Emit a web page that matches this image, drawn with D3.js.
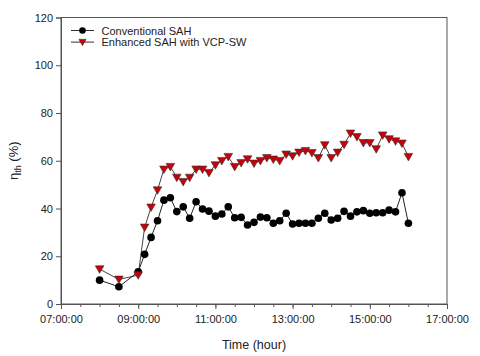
<!DOCTYPE html>
<html>
<head>
<meta charset="utf-8">
<script src="https://cdn.jsdelivr.net/npm/d3@7"></script>
<style>
  body { margin: 0; background: #fff; }
  svg text { font-family: "Liberation Sans", Arial, sans-serif; fill: #222; }
</style>
</head>
<body>
<div id="chart"></div>
<script>
// sample times (hh:mm)
var times = ["08:00", "08:30", "09:00", "09:10", "09:20", "09:30", "09:40", "09:50",
  "10:00", "10:10", "10:20", "10:30", "10:40", "10:50", "11:00", "11:10", "11:20", "11:30",
  "11:40", "11:50", "12:00", "12:10", "12:20", "12:30", "12:40", "12:50", "13:00", "13:10",
  "13:20", "13:30", "13:40", "13:50", "14:00", "14:10", "14:20", "14:30", "14:40", "14:50",
  "15:00", "15:10", "15:20", "15:30", "15:40", "15:50", "16:00"];

var conventional = [10.0, 7.2, 13.5, 20.8, 27.9, 34.9, 43.5, 44.5,
  38.7, 40.7, 35.9, 42.8, 39.8, 38.9, 36.8, 37.7, 40.7, 36.1,
  36.3, 33.1, 34.2, 36.4, 36.1, 33.8, 34.9, 38.0, 33.5, 33.8,
  33.8, 33.8, 35.9, 38.0, 35.2, 35.9, 38.8, 36.8, 38.6, 39.1,
  38.0, 38.2, 38.2, 39.3, 38.6, 46.6, 33.8];

var enhanced = [14.6, 10.3, 12.1, 32.1, 40.5, 47.7, 56.4, 57.5,
  53.0, 51.2, 53.0, 56.4, 56.4, 55.0, 58.2, 60.0, 61.7, 57.5,
  59.1, 60.7, 58.9, 60.0, 61.2, 60.6, 60.0, 62.7, 62.0, 63.5,
  64.2, 63.3, 61.2, 66.6, 61.2, 63.5, 66.8, 71.5, 70.0, 67.5,
  67.5, 64.9, 70.7, 69.1, 68.2, 67.3, 61.7];

var seriesNames = ["Conventional SAH", "Enhanced SAH with VCP-SW"];
var yTicks = [0, 20, 40, 60, 80, 100, 120];
var xTickHours = [7, 9, 11, 13, 15, 17];

var W = 480, H = 356,
    margin = { top: 17.5, right: 33, bottom: 52, left: 61 },
    width = W - margin.left - margin.right,
    height = H - margin.top - margin.bottom;

function parseTime(s) {
  var p = s.split(":");
  return new Date(Date.UTC(2000, 0, 1, +p[0], +p[1]));
}
function hourDate(h) { return new Date(Date.UTC(2000, 0, 1, h, 0)); }

var svg = d3.select("#chart").append("svg")
  .attr("width", W).attr("height", H);
var g = svg.append("g")
  .attr("transform", "translate(" + margin.left + "," + margin.top + ")");

var x = d3.scaleUtc().domain([hourDate(7), hourDate(17)]).range([0, width]);
var y = d3.scaleLinear().domain([0, 120]).range([height, 0]);

var frameColor = "#555";

// minor x ticks every 30 min
var minor = d3.utcMinute.every(30).range(hourDate(7), hourDate(17));
g.append("g")
  .attr("transform", "translate(0," + height + ")")
  .call(d3.axisBottom(x).tickValues(minor).tickSize(3).tickFormat(""))
  .call(function(a) { a.select(".domain").remove(); a.selectAll("line").attr("stroke", frameColor); });

var xAxis = g.append("g")
  .attr("transform", "translate(0," + height + ")")
  .call(d3.axisBottom(x).tickValues(xTickHours.map(hourDate)).tickSize(5).tickPadding(6)
    .tickFormat(d3.utcFormat("%H:%M:%S")));
xAxis.selectAll("text").style("font-size", "11px");

var yAxis = g.append("g")
  .call(d3.axisLeft(y).tickValues(yTicks).tickSize(5).tickPadding(3));
yAxis.selectAll("text").style("font-size", "11px");

svg.selectAll(".domain").attr("stroke", frameColor);
svg.selectAll(".tick line").attr("stroke", frameColor);

// frame
g.append("rect")
  .attr("width", width).attr("height", height)
  .attr("fill", "none").attr("stroke", frameColor).attr("stroke-width", 1);

// axis titles
svg.append("text")
  .attr("x", margin.left + width / 2).attr("y", 349)
  .attr("text-anchor", "middle").style("font-size", "12.5px")
  .text("Time (hour)");

var yt = svg.append("text")
  .attr("transform", "translate(18," + (margin.top + height / 2) + ") rotate(-90)")
  .attr("text-anchor", "middle").style("font-size", "13px");
yt.append("tspan").text("η");
yt.append("tspan").attr("dy", 3).style("font-size", "9px").text("th");
yt.append("tspan").attr("dy", -3).text(" (%)");

var line = d3.line()
  .x(function(d) { return x(d.t); })
  .y(function(d) { return y(d.v); });

function pack(vals) {
  return times.map(function(t, i) { return { t: parseTime(t), v: vals[i] }; });
}
var dConv = pack(conventional), dEnh = pack(enhanced);

var tri = "M-4.3,-3.3L4.3,-3.3L0,4.2Z";

g.append("path").datum(dEnh)
  .attr("fill", "none").attr("stroke", "#444").attr("stroke-width", 1)
  .attr("d", line);
g.append("path").datum(dConv)
  .attr("fill", "none").attr("stroke", "#222").attr("stroke-width", 1)
  .attr("d", line);

g.selectAll(".dot").data(dConv).enter().append("circle")
  .attr("cx", function(d) { return x(d.t); })
  .attr("cy", function(d) { return y(d.v); })
  .attr("r", 3.8).attr("fill", "#000");

g.selectAll(".tri").data(dEnh).enter().append("path")
  .attr("d", tri)
  .attr("transform", function(d) { return "translate(" + x(d.t) + "," + y(d.v) + ")"; })
  .attr("fill", "#c8000a").attr("stroke", "#333").attr("stroke-width", 0.6);

// legend
var legend = g.append("g").attr("transform", "translate(10,13)");
seriesNames.forEach(function(name, i) {
  var row = legend.append("g").attr("transform", "translate(0," + (i * 11.6) + ")");
  row.append("line").attr("x1", 0).attr("x2", 23).attr("y1", 0).attr("y2", 0)
    .attr("stroke", "#333").attr("stroke-width", 1);
  if (i === 0) {
    row.append("circle").attr("cx", 11.5).attr("cy", 0).attr("r", 3.3).attr("fill", "#000");
  } else {
    row.append("path").attr("d", tri).attr("transform", "translate(11.5,0) scale(0.85)")
      .attr("fill", "#c8000a").attr("stroke", "#333").attr("stroke-width", 0.6);
  }
  row.append("text").attr("x", 30.5).attr("y", 4).style("font-size", "11px").text(name);
});
</script>
</body>
</html>
